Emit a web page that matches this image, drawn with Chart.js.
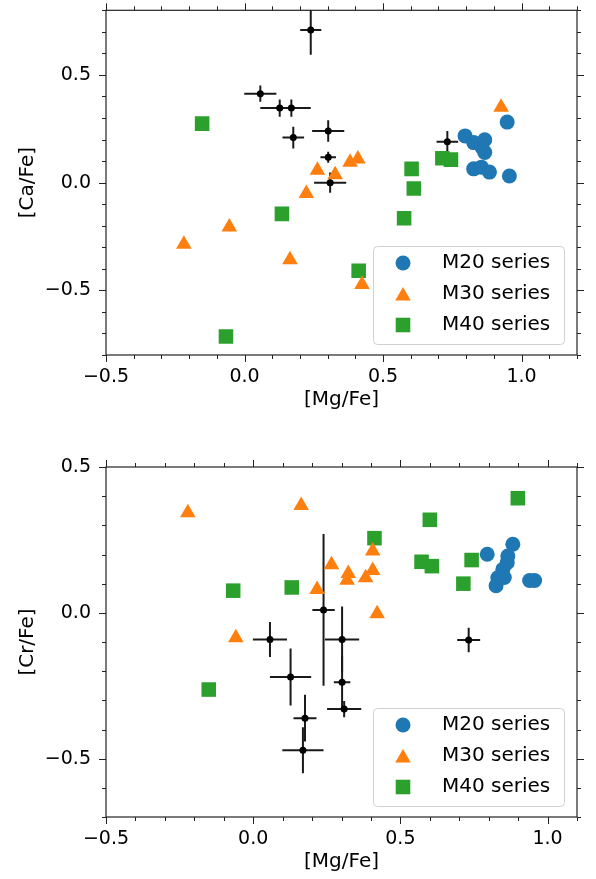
<!DOCTYPE html>
<html>
<head>
<meta charset="utf-8">
<script src="https://cdn.jsdelivr.net/npm/chart.js@4"></script>
<style>
    html, body { margin: 0; padding: 0; background: #fff; overflow: hidden; }
    #wrap { position: relative; width: 596px; height: 879px; overflow: hidden; }
    .panel { position: absolute; left: 0; }
    #topPanel { top: 0; }
    #bottomPanel { top: 440px; }
</style>
</head>
<body>
<div id="wrap">
    <div class="panel" id="topPanel"><canvas id="caChart" width="596" height="440"></canvas></div>
    <div class="panel" id="bottomPanel"><canvas id="crChart" width="596" height="460"></canvas></div>
</div>
<script>
// top panel: [Ca/Fe] vs [Mg/Fe]
const topM20Mg = [0.796, 0.827, 0.867, 0.857, 0.867, 0.827, 0.855, 0.884, 0.948, 0.956];
const topM20Ca = [0.217, 0.186, 0.199, 0.163, 0.14, 0.064, 0.072, 0.049, 0.281, 0.031];
const topM30Mg = [-0.219, -0.055, 0.164, 0.223, 0.263, 0.327, 0.381, 0.409, 0.424, 0.926];
const topM30Ca = [-0.286, -0.206, -0.358, -0.05, 0.057, 0.037, 0.095, 0.11, -0.473, 0.35];
const topM40Mg = [-0.153, -0.067, 0.135, 0.412, 0.576, 0.603, 0.611, 0.714, 0.745];
const topM40Ca = [0.274, -0.714, -0.145, -0.409, -0.165, 0.064, -0.027, 0.113, 0.107];

// bottom panel: [Cr/Fe] vs [Mg/Fe]
const botM20Mg = [0.795, 0.882, 0.865, 0.863, 0.848, 0.831, 0.825, 0.853, 0.939, 0.956];
const botM20Cr = [0.201, 0.235, 0.195, 0.172, 0.149, 0.12, 0.093, 0.121, 0.111, 0.111];
const botM30Mg = [-0.222, 0.163, 0.266, 0.217, -0.059, 0.323, 0.319, 0.382, 0.406, 0.406, 0.421];
const botM30Cr = [0.343, 0.368, 0.165, 0.08, -0.085, 0.135, 0.112, 0.12, 0.212, 0.145, -0.003];
const botM40Mg = [-0.151, -0.068, 0.131, 0.412, 0.6, 0.572, 0.607, 0.714, 0.742, 0.899];
const botM40Cr = [-0.263, 0.076, 0.087, 0.256, 0.319, 0.175, 0.16, 0.1, 0.181, 0.393];

// reference stars with error bars (same stars in both panels)
const refMg = [0.239, 0.057, 0.127, 0.169, 0.176, 0.302, 0.302, 0.309, 0.732];
const refMgErr = [0.038, 0.058, 0.07, 0.07, 0.039, 0.058, 0.028, 0.058, 0.039];
const refCa = [0.708, 0.413, 0.346, 0.346, 0.209, 0.24, 0.118, 0.0, 0.19];
const refCaErr = [0.114, 0.038, 0.04, 0.04, 0.05, 0.05, 0.026, 0.047, 0.05];
const refCr = [0.01, -0.091, -0.22, -0.471, -0.361, -0.091, -0.238, -0.33, -0.093];
const refCrErr = [0.26, 0.06, 0.098, 0.079, 0.08, 0.113, 0.09, 0.028, 0.042];

const seriesNames = ['M20 series', 'M30 series', 'M40 series'];
const seriesColors = ['#1f77b4', '#ff7f0e', '#2ca02c'];
const seriesStyles = ['circle', 'triangle', 'rect'];
const seriesRadius = [7.5, 9, 10.3];

const xTicks = [-0.5, 0.0, 0.5, 1.0];
const caTicks = [-0.5, 0.0, 0.5];
const crTicks = [-0.5, 0.0, 0.5];

Chart.defaults.font.family = "'DejaVu Sans', sans-serif";
Chart.defaults.color = '#000';

function pts(xs, ys) {
    return xs.map((x, i) => ({ x: x, y: ys[i] }));
}

function fmt(v) {
    return v.toFixed(1).replace('-', '\u2212');
}

const errorBars = {
    id: 'errorBars',
    beforeDatasetDraw(chart, args) {
        const ds = chart.data.datasets[args.index];
        if (!ds.xErr) return;
        const { ctx, chartArea: a, scales: { x, y } } = chart;
        ctx.save();
        ctx.beginPath();
        ctx.rect(a.left, a.top, a.right - a.left, a.bottom - a.top);
        ctx.clip();
        ctx.strokeStyle = '#1a1a1a';
        ctx.lineWidth = 2;
        ds.data.forEach((p, i) => {
            const px = x.getPixelForValue(p.x);
            const py = y.getPixelForValue(p.y);
            ctx.beginPath();
            ctx.moveTo(x.getPixelForValue(p.x - ds.xErr[i]), py);
            ctx.lineTo(x.getPixelForValue(p.x + ds.xErr[i]), py);
            ctx.moveTo(px, y.getPixelForValue(p.y - ds.yErr[i]));
            ctx.lineTo(px, y.getPixelForValue(p.y + ds.yErr[i]));
            ctx.stroke();
        });
        ctx.restore();
    }
};

// box on all four sides, outward ticks (major every 0.5, minor every 0.1)
const frame = {
    id: 'frame',
    afterDraw(chart) {
        const { ctx, chartArea: a, scales: { x, y } } = chart;
        ctx.save();
        ctx.strokeStyle = '#222';
        ctx.lineWidth = 1.2;
        ctx.strokeRect(a.left, a.top, a.right - a.left, a.bottom - a.top);
        ctx.lineWidth = 1;
        ctx.beginPath();
        for (let v = Math.ceil(x.min * 10); v <= Math.floor(x.max * 10 + 1e-6); v++) {
            const len = v % 5 === 0 ? 7 : 4;
            const px = Math.round(x.getPixelForValue(v / 10)) + 0.5;
            ctx.moveTo(px, a.bottom); ctx.lineTo(px, a.bottom + len);
            ctx.moveTo(px, a.top); ctx.lineTo(px, a.top - len);
        }
        for (let v = Math.ceil(y.min * 10 - 1e-6); v <= Math.floor(y.max * 10 + 1e-6); v++) {
            const len = v % 5 === 0 ? 7 : 4;
            const py = Math.round(y.getPixelForValue(v / 10)) + 0.5;
            ctx.moveTo(a.left, py); ctx.lineTo(a.left - len, py);
            ctx.moveTo(a.right, py); ctx.lineTo(a.right + len, py);
        }
        ctx.stroke();
        ctx.restore();
    }
};

const boxLegend = {
    id: 'boxLegend',
    afterDraw(chart) {
        const { ctx, chartArea: a } = chart;
        const w = 191, h = 98;
        const left = a.right - 13 - w;
        const top = a.bottom - 11 - h;
        ctx.save();
        ctx.fillStyle = 'rgba(255,255,255,0.8)';
        ctx.strokeStyle = '#d0d0d0';
        ctx.lineWidth = 1;
        ctx.beginPath();
        ctx.roundRect(left + 0.5, top + 0.5, w, h, 4);
        ctx.fill();
        ctx.stroke();
        ctx.font = "20px 'DejaVu Sans'";
        ctx.textBaseline = 'middle';
        seriesNames.forEach((name, i) => {
            const cy = top + 17 + i * 31;
            ctx.fillStyle = seriesColors[i];
            Chart.helpers.drawPoint(ctx, {
                pointStyle: seriesStyles[i],
                radius: seriesRadius[i],
                rotation: 0,
                borderWidth: 0
            }, left + 30, cy + (i === 1 ? 2 : 0));
            ctx.fillStyle = '#000';
            ctx.fillText(name, left + 69, cy);
        });
        ctx.restore();
    }
};

function buildDatasets(groups, refY, refYErr) {
    const sets = groups.map((g, i) => ({
        label: seriesNames[i],
        data: pts(g[0], g[1]),
        pointStyle: seriesStyles[i],
        pointRadius: seriesRadius[i],
        pointBackgroundColor: seriesColors[i],
        pointBorderWidth: 0
    }));
    sets.push({
        label: 'reference',
        data: pts(refMg, refY),
        xErr: refMgErr,
        yErr: refYErr,
        pointStyle: 'circle',
        pointRadius: 3.5,
        pointBackgroundColor: '#000',
        pointBorderWidth: 0
    });
    return sets;
}

function renderPanel(id, opts) {
    const ctx = document.getElementById(id).getContext('2d');
    return new Chart(ctx, {
        type: 'scatter',
        data: { datasets: opts.datasets },
        plugins: [errorBars, frame, boxLegend],
        options: {
            responsive: false,
            animation: false,
            devicePixelRatio: 1,
            layout: { padding: { top: opts.padTop, right: 19, left: 0, bottom: 0 } },
            plugins: { legend: { display: false }, tooltip: { enabled: false } },
            scales: {
                x: {
                    type: 'linear',
                    min: opts.xMin,
                    max: opts.xMax,
                    afterBuildTicks: s => { s.ticks = xTicks.map(v => ({ value: v })); },
                    afterFit: s => {
                        s.height = opts.xHeight;
                        s.paddingLeft = 0;
                        s.paddingRight = 0;
                    },
                    grid: { display: false, drawTicks: false },
                    border: { display: false },
                    ticks: {
                        padding: 11,
                        maxRotation: 0,
                        autoSkip: false,
                        font: { size: 19 },
                        callback: v => fmt(v)
                    },
                    title: {
                        display: true,
                        text: '[Mg/Fe]',
                        font: { size: 20 },
                        padding: { top: 0, bottom: opts.xTitlePad }
                    }
                },
                y: {
                    type: 'linear',
                    min: opts.yMin,
                    max: opts.yMax,
                    afterBuildTicks: s => { s.ticks = opts.yTicks.map(v => ({ value: v })); },
                    afterFit: s => {
                        s.width = 106;
                        s.paddingTop = 0;
                        s.paddingBottom = 0;
                    },
                    grid: { display: false, drawTicks: false },
                    border: { display: false },
                    ticks: {
                        padding: 15,
                        autoSkip: false,
                        font: { size: 19 },
                        callback: v => fmt(v)
                    },
                    title: {
                        display: true,
                        text: opts.yLabel,
                        font: { size: 20 },
                        padding: { top: 16, bottom: 0 }
                    }
                }
            }
        }
    });
}

renderPanel('caChart', {
    datasets: buildDatasets([[topM20Mg, topM20Ca], [topM30Mg, topM30Ca], [topM40Mg, topM40Ca]], refCa, refCaErr),
    xMin: -0.5, xMax: 1.2,
    yMin: -0.8, yMax: 0.8,
    yTicks: caTicks,
    yLabel: '[Ca/Fe]',
    padTop: 7,
    xHeight: 85,
    xTitlePad: 28
});

renderPanel('crChart', {
    datasets: buildDatasets([[botM20Mg, botM20Cr], [botM30Mg, botM30Cr], [botM40Mg, botM40Cr]], refCr, refCrErr),
    xMin: -0.5, xMax: 1.1,
    yMin: -0.7, yMax: 0.5,
    yTicks: crTicks,
    yLabel: '[Cr/Fe]',
    padTop: 27,
    xHeight: 83,
    xTitlePad: 26
});
</script>
</body>
</html>
